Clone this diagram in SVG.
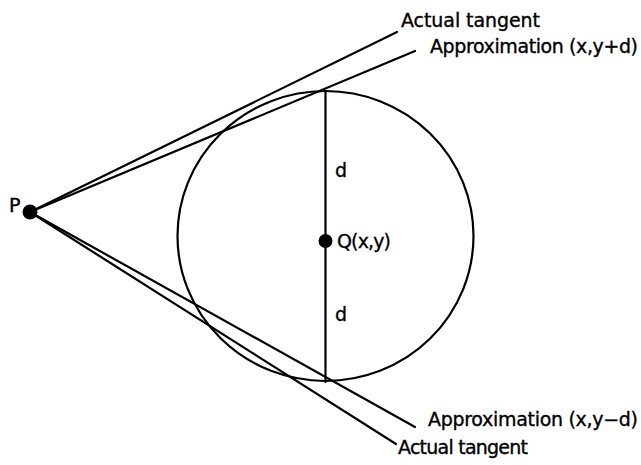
<svg xmlns="http://www.w3.org/2000/svg" width="641" height="465" viewBox="0 0 641 465">
<style>
.ln{stroke:#000;stroke-width:2.2;fill:none;stroke-linecap:round}
.t{font-family:"DejaVu Sans","Liberation Sans",Arial,sans-serif;font-size:19px;fill:#000;stroke:#000;stroke-width:0.35}
</style>
<rect width="641" height="465" fill="#fff"/>
<g id="connectors">
<line class="ln" x1="30" y1="212" x2="397" y2="32"/>
<line class="ln" x1="30" y1="212" x2="415" y2="51"/>
<line class="ln" x1="30" y1="212" x2="415" y2="427"/>
<line class="ln" x1="30" y1="212" x2="396" y2="444"/>
<line class="ln" x1="325.5" y1="92" x2="325.5" y2="382"/>
</g>
<g id="circle"><ellipse class="ln" cx="325.5" cy="236" rx="148" ry="145"/></g>
<g id="P"><circle cx="30" cy="212" r="7.5" fill="#000"/><text class="t" x="9" y="212">P</text></g>
<g id="Q"><circle cx="325.5" cy="241" r="7" fill="#000"/><text class="t" x="337" y="248" textLength="54">Q(x,y)</text></g>
<g id="d1"><text class="t" x="335" y="177">d</text></g>
<g id="d2"><text class="t" x="335" y="321">d</text></g>
<g id="lab1"><text class="t" x="401" y="27" textLength="139">Actual tangent</text></g>
<g id="lab2"><text class="t" x="430" y="53" textLength="208">Approximation (x,y+d)</text></g>
<g id="lab3"><text class="t" x="428" y="426" textLength="210">Approximation (x,y−d)</text></g>
<g id="lab4"><text class="t" x="398" y="454" textLength="130">Actual tangent</text></g>
</svg>
